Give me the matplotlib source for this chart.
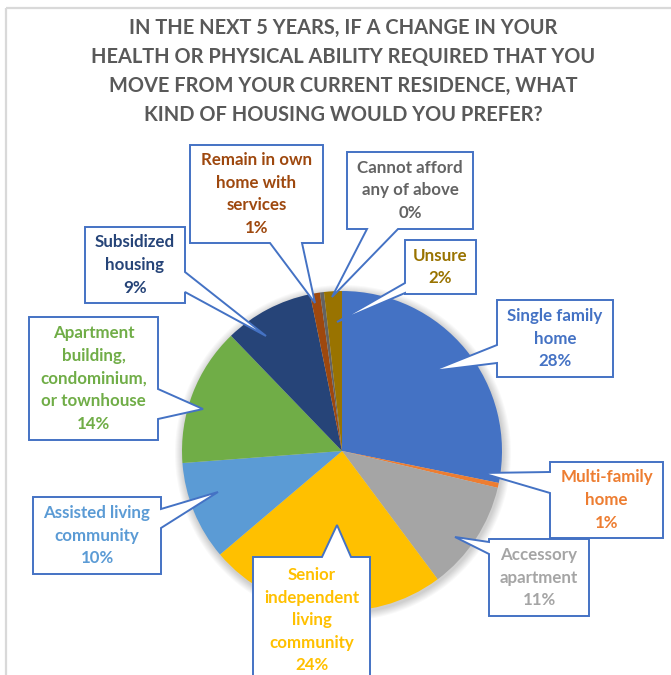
import matplotlib
matplotlib.use("Agg")
import matplotlib.pyplot as plt
from matplotlib.patches import Polygon, Circle

W, H = 671, 675

title_lines = ["IN THE NEXT 5 YEARS, IF A CHANGE IN YOUR",
               "HEALTH OR PHYSICAL ABILITY REQUIRED THAT YOU",
               "MOVE FROM YOUR CURRENT RESIDENCE, WHAT",
               "KIND OF HOUSING WOULD YOU PREFER?"]

categories = ["Single family\nhome", "Multi-family\nhome", "Accessory\napartment",
              "Senior\nindependent\nliving\ncommunity", "Assisted living\ncommunity",
              "Apartment\nbuilding,\ncondominium,\nor townhouse", "Subsidized\nhousing",
              "Remain in own\nhome with\nservices", "Cannot afford\nany of above", "Unsure"]
values = [28.2, 0.5, 11.1, 24.0, 10.0, 14.0, 9.0, 1.0, 0.4, 1.8]
pct_labels = ["28%", "1%", "11%", "24%", "10%", "14%", "9%", "1%", "0%", "2%"]
colors = ["#4472C4", "#ED7D31", "#A5A5A5", "#FFC000", "#5B9BD5",
          "#70AD47", "#264478", "#9E480E", "#636363", "#997300"]

# callout layout in pixel coords: box (x0,y0,x1,y1), side, base (a,b), tip (x,y)
callouts = [
    ((497, 300, 613, 377), "left", (345, 363), (432, 371)),
    ((550, 462, 663, 538), "left", (472, 493), (482, 473)),
    ((489, 539, 589, 616), "left", (542, 554), (455, 537)),
    ((253, 557, 370, 720), "top", (322, 351), (337, 525)),
    ((33, 497, 161, 574), "right", (509, 528), (218, 492)),
    ((29, 317, 158, 440), "right", (389, 419), (203, 409)),
    ((85, 227, 185, 303), "right", (272, 292), (266, 336)),
    ((190, 145, 323, 243), "bottom", (270, 302), (315, 303)),
    ((347, 152, 473, 229), "bottom", (367, 398), (332, 297)),
    ((405, 240, 476, 294), "left", (283, 293), (337, 322)),
]

FONT = "Lato"
LINE_PX = 22.6

fig = plt.figure(figsize=(W / 100, H / 100), dpi=100)
ax = fig.add_axes([0, 0, 1, 1])
ax.set_xlim(0, W)
ax.set_ylim(0, H)
ax.axis("off")


def Y(p):
    return H - p


# chart border (cropped)
ax.plot([5.5, 5.5], [Y(8), Y(H + 5)], color="#D9D9D9", lw=1.6, solid_capstyle="butt")
ax.plot([5.5, W + 5], [Y(8), Y(8)], color="#D9D9D9", lw=1.6, solid_capstyle="butt")

# title
for i, t in enumerate(title_lines):
    ax.text(343, Y(28 + i * 29), t, ha="center", va="center", fontsize=14.4,
            fontweight="bold", color="#595959", family=FONT)

cx, cy, r = 342, Y(451), 160
# soft shadow
for k in range(8):
    ax.add_patch(Circle((cx + 1, cy - 2), r + 1 + k * 1.0, color="#000000",
                        alpha=0.025, lw=0, zorder=1))

ax.pie(values, colors=colors, startangle=90, counterclock=False,
       center=(cx, cy), radius=r, frame=True,
       wedgeprops=dict(linewidth=0, zorder=2))
ax.set_xlim(0, W)
ax.set_ylim(0, H)
ax.set_aspect("auto")
ax.axis("off")


def callout_poly(box, side, base, tip):
    x0, y0, x1, y1 = box
    a, b = base
    tx, ty = tip
    if side == "left":
        pts = [(x0, y0), (x1, y0), (x1, y1), (x0, y1), (x0, b), (tx, ty), (x0, a)]
    elif side == "right":
        pts = [(x0, y0), (x1, y0), (x1, a), (tx, ty), (x1, b), (x1, y1), (x0, y1)]
    elif side == "top":
        pts = [(x0, y0), (a, y0), (tx, ty), (b, y0), (x1, y0), (x1, y1), (x0, y1)]
    else:
        pts = [(x0, y0), (x1, y0), (x1, y1), (b, y1), (tx, ty), (a, y1), (x0, y1)]
    return [(x, Y(y)) for x, y in pts]


for cat, pct, col, (box, side, base, tip) in zip(categories, pct_labels, colors, callouts):
    ax.add_patch(Polygon(callout_poly(box, side, base, tip), closed=True,
                         facecolor="white", edgecolor="#4472C4", lw=1.4,
                         joinstyle="miter", zorder=5))
    lines = cat.split("\n") + [pct]
    x0, y0, x1, y1 = box
    xc = (x0 + x1) / 2
    n = len(lines)
    if side == "top":
        ystart = 575
    else:
        ystart = (y0 + y1) / 2 - (n - 1) * LINE_PX / 2
    for i, ln in enumerate(lines):
        ax.text(xc, Y(ystart + i * LINE_PX), ln, ha="center", va="center",
                fontsize=12.2, fontweight="bold", color=col, family=FONT, zorder=6)

fig.savefig("out.png", dpi=100)
